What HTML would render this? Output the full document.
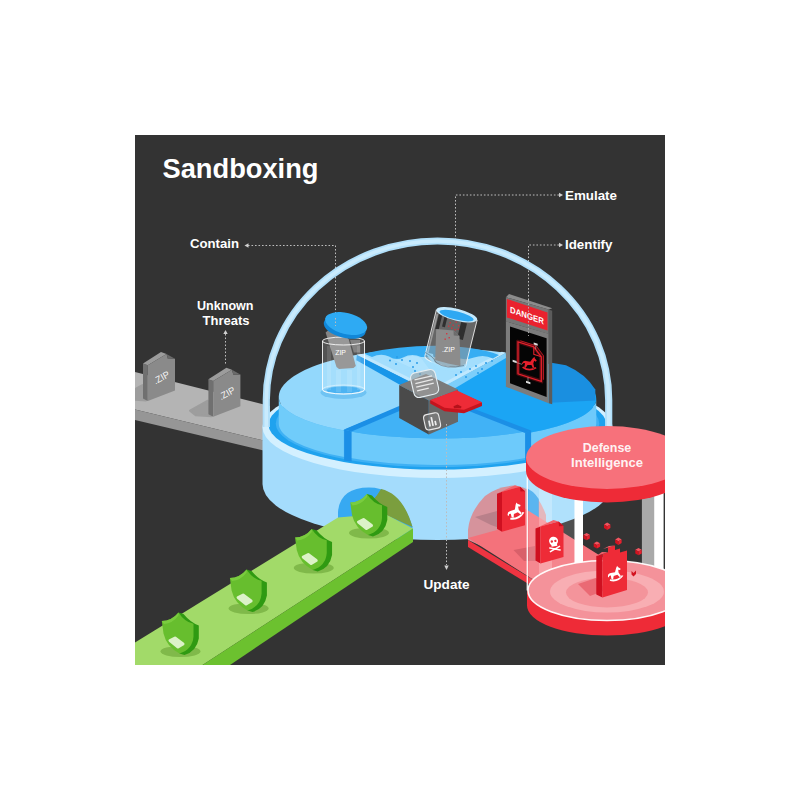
<!DOCTYPE html>
<html><head><meta charset="utf-8"><title>Sandboxing</title>
<style>
html,body{margin:0;padding:0;background:#fff;}
svg{display:block;}
text{font-family:"Liberation Sans",sans-serif;font-weight:bold;fill:#fff;}
</style></head><body>
<svg width="800" height="800" viewBox="0 0 800 800">
<defs><clipPath id="panel"><rect x="135" y="135" width="530" height="530"/></clipPath></defs>
<rect x="0" y="0" width="800" height="800" fill="#ffffff"/>
<rect x="135" y="135" width="530" height="530" fill="#333333"/>
<g clip-path="url(#panel)">
<text x="162.5" y="177.5" font-size="28" textLength="156" lengthAdjust="spacingAndGlyphs">Sandboxing</text>
<text x="190" y="248" font-size="13" textLength="49" lengthAdjust="spacingAndGlyphs">Contain</text>
<text x="225.3" y="309.5" font-size="13" text-anchor="middle" textLength="56.5" lengthAdjust="spacingAndGlyphs">Unknown</text>
<text x="226" y="325" font-size="13" text-anchor="middle" textLength="47" lengthAdjust="spacingAndGlyphs">Threats</text>
<text x="565" y="199.5" font-size="13" textLength="52" lengthAdjust="spacingAndGlyphs">Emulate</text>
<text x="565" y="249" font-size="13" textLength="47.5" lengthAdjust="spacingAndGlyphs">Identify</text>
<text x="423.5" y="588.5" font-size="13" textLength="46" lengthAdjust="spacingAndGlyphs">Update</text>
<path d="M248,245.5 H335.5 V330" fill="none" stroke="#bdbdbd" stroke-width="1" stroke-dasharray="1.6 1.9" />
<polygon points="244.5,245.5 248.5,243.3 248.5,247.7" fill="#d0d0d0" />
<path d="M225.5,334 V364" fill="none" stroke="#bdbdbd" stroke-width="1" stroke-dasharray="1.6 1.9" />
<polygon points="225.5,330.0 223.3,334.0 227.7,334.0" fill="#d0d0d0" />
<path d="M559,195 H455.5 V312" fill="none" stroke="#bdbdbd" stroke-width="1" stroke-dasharray="1.6 1.9" />
<polygon points="563.0,195.0 559.0,192.8 559.0,197.2" fill="#d0d0d0" />
<path d="M559,245 H528.5 V340" fill="none" stroke="#bdbdbd" stroke-width="1" stroke-dasharray="1.6 1.9" />
<polygon points="563.0,245.0 559.0,242.8 559.0,247.2" fill="#d0d0d0" />
<polygon points="135.0,372.0 270.0,406.0 270.0,442.0 135.0,409.5" fill="#b4b4b4" />
<polygon points="135.0,409.5 270.0,442.0 270.0,452.0 135.0,420.0" fill="#969696" />
<polygon points="124.6,395.0 142.4,385.0 146.0,400.5 130.2,399.5" fill="#9d9d9d" stroke="#9d9d9d" stroke-width="2" stroke-linejoin="round"/>
<polygon points="143.0,363.5 147.8,365.3 147.8,401.0 143.0,398.5" fill="#707070" />
<polygon points="143.0,363.5 161.0,352.0 166.5,354.0 147.8,365.3" fill="#9c9c9c" />
<polygon points="147.8,365.3 166.5,354.0 168.0,359.0 175.0,358.8 175.0,390.6 147.8,401.0" fill="#8a8a8a" />
<polygon points="166.5,354.0 175.0,358.8 168.0,359.0" fill="#6a6a6a" />
<text x="161.3" y="380.6" font-size="9.3" text-anchor="middle" style="font-weight:normal" fill="#fff" fill-opacity="0.92" transform="rotate(-29 161.8 377.3)">.ZIP</text>
<polygon points="190.0,410.7 207.8,400.7 211.4,416.2 195.6,415.2" fill="#9d9d9d" stroke="#9d9d9d" stroke-width="2" stroke-linejoin="round"/>
<polygon points="208.4,379.2 213.2,381.0 213.2,416.7 208.4,414.2" fill="#707070" />
<polygon points="208.4,379.2 226.4,367.7 231.9,369.7 213.2,381.0" fill="#9c9c9c" />
<polygon points="213.2,381.0 231.9,369.7 233.4,374.7 240.4,374.5 240.4,406.3 213.2,416.7" fill="#8a8a8a" />
<polygon points="231.9,369.7 240.4,374.5 233.4,374.7" fill="#6a6a6a" />
<text x="226.70000000000002" y="396.3" font-size="9.3" text-anchor="middle" style="font-weight:normal" fill="#fff" fill-opacity="0.92" transform="rotate(-29 227.20000000000002 393.0)">.ZIP</text>
<path d="M262.5,427 L262.5,484 A175,56 0 0 0 612.5,484 L612.5,427 Z" fill="#a4dcfc"/>
<ellipse cx="437.5" cy="427" rx="175" ry="51" fill="#d3f0ff" />
<ellipse cx="437.5" cy="424.5" rx="169" ry="45" fill="#1fa2ee" />
<ellipse cx="437.5" cy="423.5" rx="161.75" ry="43.5" fill="#3fb1f4" />
<path d="M432,393.5 L356.93,354.78 A158.75,49 0 0 1 505.84,352.77 Z" fill="#a3defd" />
<path d="M596.25,399.00 A158.75,41.5 0 0 1 528.10,433.08 L528.10,457.58 A158.75,41.5 0 0 0 596.25,423.50 Z" fill="#6dcafb" />
<path d="M432,395.5 L505.84,354.77 A158.75,49 0 0 1 596.25,399.00 A158.75,41.5 0 0 1 528.10,433.08 Z" fill="#1ba5f4" />
<path d="M343.07,430.36 A158.75,41.5 0 0 1 278.75,397.00 L278.75,423.50 A158.75,41.5 0 0 0 343.07,456.86 Z" fill="#70ccfa" />
<path d="M432,393.5 L343.07,430.36 A158.75,41.5 0 0 1 278.75,397.00 A158.75,49 0 0 1 356.93,354.78 Z" fill="#93d8fc" />
<path d="M528.10,431.08 A158.75,41.5 0 0 1 343.07,430.36 L343.07,456.86 A158.75,41.5 0 0 0 528.10,457.58 Z" fill="#6dcafb" />
<path d="M432,393.5 L528.10,431.08 A158.75,41.5 0 0 1 343.07,430.36 Z" fill="#41b2f6" />
<polygon points="432.0,392.0 344.1,429.4 351.6,431.4 432.0,397.0" fill="#1b8fe6" />
<polygon points="344.1,429.4 351.6,431.4 351.6,461.4 344.1,460.4" fill="#1b8fe6" />
<polygon points="432.0,393.0 531.1,430.6 525.1,433.1 432.0,396.5" fill="#1b8fe6" />
<polygon points="525.1,432.6 531.1,430.6 531.1,459.6 525.1,460.6" fill="#1b8fe6" />
<polygon points="432.0,392.5 356.9,354.8 356.4,360.3 426.0,399.5" fill="#1896e9" />
<polygon points="432.0,392.5 505.8,352.8 506.3,357.8 436.0,399.5" fill="#7ccefa" />
<polygon points="432.0,392.5 505.8,352.8 501.8,351.8 432.0,389.0" fill="#bfe8fe" />
<polygon points="432.0,392.5 356.9,354.8 361.9,354.0 432.0,389.0" fill="#bfe8fe" />
<path d="M364,353.5 Q400,345.5 437,345.8 Q475,346 499,355 L493,358.5 Q484,354 474,357.5 Q464,361 455,357 L421,357 Q412,353 403,357.5 Q396,361 389,356.5 Q381,353 372,357 Z" fill="#36adf3" />
<path d="M389,357.5 Q396,362 403,358.5 Q412,354 421,358 L437,379.5 Z" fill="#b9e7ff" opacity="0.55"/>
<circle cx="390" cy="360.5" r="1" fill="#2a9de8"/>
<circle cx="396" cy="364" r="1" fill="#2a9de8"/>
<circle cx="397" cy="357" r="1" fill="#2a9de8"/>
<circle cx="402" cy="360" r="1" fill="#2a9de8"/>
<circle cx="410" cy="361" r="1" fill="#2a9de8"/>
<circle cx="413" cy="367" r="1" fill="#2a9de8"/>
<circle cx="417" cy="363" r="1" fill="#2a9de8"/>
<circle cx="415" cy="371" r="1" fill="#2a9de8"/>
<circle cx="420" cy="374" r="1" fill="#2a9de8"/>
<circle cx="470" cy="369" r="1" fill="#2a9de8"/>
<circle cx="476" cy="366" r="1" fill="#2a9de8"/>
<circle cx="482" cy="369" r="1" fill="#2a9de8"/>
<circle cx="478" cy="373" r="1" fill="#2a9de8"/>
<circle cx="486" cy="363" r="1" fill="#2a9de8"/>
<circle cx="456" cy="375" r="1" fill="#2a9de8"/>
<circle cx="461" cy="372" r="1" fill="#2a9de8"/>
<circle cx="466" cy="377" r="1" fill="#2a9de8"/>
<circle cx="492" cy="361" r="1" fill="#2a9de8"/>
<ellipse cx="343.5" cy="392.5" rx="23" ry="6.5" fill="#6fc3f3" />
<ellipse cx="343.5" cy="390.3" rx="17" ry="3.8" fill="#2aa5f0" />
<polygon points="350.0,340.0 360.0,340.0 360.0,352.5 353.8,352.5" fill="#6a6a6a" />
<polygon points="325.6,332.5 328.0,330.5 341.5,331.0 348.8,339.4 355.8,366.0 353.5,368.0 339.0,369.0 336.5,367.0" fill="#858585" />
<text x="340.6" y="355" font-size="7" text-anchor="middle" style="font-weight:normal">ZIP</text>
<path d="M322.5,341 V389.5 A21,4.5 0 0 0 364.5,389.5 V341 A21,4 0 0 0 322.5,341 Z" fill="#ffffff" opacity="0.16"/>
<rect x="327" y="346" width="4" height="44" fill="#ffffff" opacity="0.12"/><rect x="336" y="370" width="5" height="22" fill="#ffffff" opacity="0.12"/><rect x="347" y="370" width="5" height="22" fill="#ffffff" opacity="0.12"/><rect x="357" y="346" width="3.5" height="44" fill="#ffffff" opacity="0.12"/>
<path d="M322.5,341 V389.5 A21,4.5 0 0 0 364.5,389.5 V341" fill="none" stroke="#ffffff" stroke-width="1" opacity="0.85"/>
<ellipse cx="343.5" cy="341" rx="21" ry="4" fill="none" stroke="#ffffff" stroke-width="1" opacity="0.85"/>
<ellipse cx="343.5" cy="389.5" rx="21" ry="4.5" fill="none" stroke="#ffffff" stroke-width="0.8" opacity="0.6"/>
<g transform="rotate(14 346 324)">
<ellipse cx="345.6" cy="327.6" rx="21.5" ry="10.5" fill="#1187d8" />
<ellipse cx="346" cy="323.5" rx="21.5" ry="10.5" fill="#2eaaf3" />
</g>
<path d="M335.5,318 V326" fill="none" stroke="#bdbdbd" stroke-width="1" stroke-dasharray="1.6 1.9" stroke="#9fd8fb"/>
<g transform="rotate(14 450.5 340)">
<path d="M429.5,314 V361.5 A21,5.5 0 0 0 471.5,361.5 V314 Z" fill="#8f8f8f" opacity="0.55"/>
<rect x="433" y="317" width="3.5" height="16" fill="#262626" opacity="0.85"/>
<rect x="439" y="317" width="3" height="12" fill="#262626" opacity="0.85"/>
<rect x="456.5" y="320" width="6" height="17" fill="#262626" opacity="0.85"/>
</g>
<polygon points="436.2,329.0 453.5,330.5 459.5,336.0 460.5,366.0 448.0,363.5 435.2,360.0" fill="#8c8c8c" />
<polygon points="453.5,330.5 459.5,336.0 453.8,335.6" fill="#6c6c6c" />
<text x="448.5" y="352" font-size="7" text-anchor="middle" style="font-weight:normal">.ZIP</text>
<rect x="449.5" y="322" width="1.4" height="1.4" fill="#d9303a" opacity="0.9"/>
<rect x="452.5" y="324.5" width="1.4" height="1.4" fill="#d9303a" opacity="0.9"/>
<rect x="455.5" y="321.5" width="1.4" height="1.4" fill="#d9303a" opacity="0.9"/>
<rect x="458" y="325" width="1.4" height="1.4" fill="#d9303a" opacity="0.9"/>
<rect x="451" y="327.5" width="1.4" height="1.4" fill="#d9303a" opacity="0.9"/>
<rect x="454.5" y="329" width="1.4" height="1.4" fill="#d9303a" opacity="0.9"/>
<rect x="457.5" y="328.5" width="1.4" height="1.4" fill="#d9303a" opacity="0.9"/>
<rect x="448" y="325.5" width="1.4" height="1.4" fill="#d9303a" opacity="0.9"/>
<rect x="446" y="333" width="1.4" height="1.4" fill="#d9303a" opacity="0.9"/>
<rect x="448.5" y="337" width="1.4" height="1.4" fill="#d9303a" opacity="0.9"/>
<rect x="444.5" y="338.5" width="1.4" height="1.4" fill="#d9303a" opacity="0.9"/>
<g transform="rotate(14 450.5 340)">
<ellipse cx="450.5" cy="314" rx="21" ry="6" fill="#c3e8fc" />
<ellipse cx="450.5" cy="314.8" rx="17.5" ry="4.2" fill="#2ea8f2" />
<path d="M429.5,314 V361.5 A21,5.5 0 0 0 471.5,361.5 V314" fill="none" stroke="#ffffff" stroke-width="1" opacity="0.8"/>
<path d="M431.5,318 V359" fill="none" stroke="#ffffff" stroke-width="1.6" opacity="0.35"/>
</g>
<path d="M424.5,352 L433,354 L434.5,362 Q445,369 458,366.5 L466,364 L465,369 Q450,374 436,368 Z" fill="#a3defd" opacity="0.8"/>
<path d="M425,352.5 Q433,356 436,362.5 Q446,370 464,365.5" fill="none" stroke="#4a5560" stroke-width="0.7" opacity="0.8"/>
<path d="M550,362.5 L566,365.2 Q586,374 595.3,389.5 L595.5,400.5 L550,402.8 Z" fill="#1a8fe0" />
<polygon points="548.7,309.5 552.2,310.7 552.2,404.3 548.7,403.3" fill="#5c5c5c" />
<polygon points="505.9,297.2 509.0,294.0 552.2,308.2 548.7,309.5" fill="#8c8c8c" />
<polygon points="505.9,297.2 548.7,309.5 548.7,334.0 505.9,321.5" fill="#767676" />
<polygon points="506.9,299.0 547.5,312.6 547.5,330.5 506.9,317.4" fill="#ea222e" />
<text x="0" y="0" font-size="8.8" transform="matrix(0.94,0.33,0,1,510,312.6)" textLength="36" lengthAdjust="spacingAndGlyphs">DANGER</text>
<polygon points="505.9,321.3 548.7,333.8 548.7,403.3 505.9,386.8" fill="#7c7c7c" />
<polygon points="510.0,326.4 546.6,338.2 546.6,397.0 510.0,383.2" fill="#050505" />
<g transform="matrix(1,0.32,0,1,0,-163.2)">
<path d="M518,339.3 H533.8 L541.3,346.8 V371.3 H518 Z" fill="none" stroke="#e5202c" stroke-width="4" opacity="0.28" stroke-linejoin="round"/>
<path d="M518,339.3 H533.8 L541.3,346.8 V371.3 H518 Z" fill="none" stroke="#e5202c" stroke-width="1.3"/>
<path d="M520.3,337.5 H536 L543.5,345 V369" fill="none" stroke="#e5202c" stroke-width="1.1" opacity="0.75"/>
<path d="M533.8,339.3 V346.8 H541.3" fill="none" stroke="#e5202c" stroke-width="1.1"/>
<path d="M535.7,337.5 V341 M513,360.5 H522 M528,371.5 V376" stroke="#c9c9c9" stroke-width="0.6" fill="none" opacity="0.8"/>
<rect x="533.7" y="335" width="4" height="1.9" fill="#dddddd"/><rect x="512.6" y="358.8" width="4" height="2" fill="#dddddd"/><rect x="526" y="375.6" width="4.4" height="2.1" fill="#dddddd"/>
</g>
<path d="M-6.5,4.5 Q0,8.5 6.5,3.5 L5.3,2.6 Q0,6.3 -5.6,3.2 Z M-4.6,3.2 L-4.2,0.2 Q-6,-0.6 -6.3,1.4 L-7,0.6 Q-6.6,-2.2 -3.6,-2 L0.2,-1.6 L2.2,-5 L3.6,-6.6 L3.9,-5.3 L5.9,-3.3 L5.1,-2.3 L3.6,-3 L3.1,-0.4 L4.5,3.6 L3.3,4.1 L1.6,1.2 L-1.9,1.4 L-3.2,4.1 Z" fill="#e5202c" transform="translate(529.8 363.6) rotate(6) scale(1.12)"/>
<path d="M528.5,300 V336" fill="none" stroke="#bdbdbd" stroke-width="1" stroke-dasharray="1.6 1.9" opacity="0.8"/>
<polygon points="399.2,385.0 426.0,374.0 458.0,389.5 428.8,400.5" fill="#7a7a7a" />
<polygon points="399.2,385.0 428.8,400.5 428.8,434.5 399.2,418.0" fill="#4a4a4a" />
<polygon points="428.8,400.5 458.0,389.5 458.0,421.8 428.8,434.5" fill="#676767" />
<g transform="rotate(-13 424.6 383.5)">
<rect x="412" y="371" width="25.2" height="25" rx="5" fill="#a0a0a0" fill-opacity="0.6" stroke="#e6eef2" stroke-width="1.1"/>
<rect x="415.6" y="377.0" width="18" height="1.3" fill="#e8e8e8"/>
<rect x="415.6" y="380.8" width="18" height="1.3" fill="#e8e8e8"/>
<rect x="415.6" y="384.6" width="18" height="1.3" fill="#e8e8e8"/>
<rect x="415.6" y="388.4" width="12" height="1.3" fill="#e8e8e8"/>
</g>
<g transform="rotate(-12 432.1 421.4)">
<rect x="424.4" y="413.6" width="15.4" height="15.6" rx="3.5" fill="#8a8a8a" fill-opacity="0.5" stroke="#e8e8e8" stroke-width="1.1"/>
<rect x="428.3" y="420" width="1.7" height="6" fill="#eee"/><rect x="431.3" y="417" width="1.7" height="9" fill="#eee"/><rect x="434.3" y="421.5" width="1.7" height="4.5" fill="#eee"/>
</g>
<polygon points="430.2,400.5 456.5,391.0 482.0,402.5 482.0,406.0 464.0,413.3 444.5,411.2 430.2,403.5" fill="#c5141e" />
<polygon points="430.2,400.0 456.5,390.2 482.0,402.2 464.0,409.8 444.5,407.8" fill="#ee2b37" />
<polygon points="453.5,406.3 457.5,404.6 461.5,406.5 461.0,408.3 454.0,408.3" fill="#b5121b" />
<path d="M446.5,424 V565" fill="none" stroke="#bdbdbd" stroke-width="1" stroke-dasharray="1.6 1.9" />
<polygon points="446.5,570.0 444.3,565.5 448.7,565.5" fill="#d0d0d0" />
<path d="M266.3,427 V400 A171.2,159 0 0 1 608.7,400 V427" fill="none" stroke="#b0dffa" stroke-width="7.2"/>
<path d="M266.3,427 V400 A171.2,159 0 0 1 608.7,400 V427" fill="none" stroke="#c9ebfd" stroke-width="3.6"/>
<path d="M338,519 V512 Q340,487.5 369,487.5 Q400,487.5 412.5,527 V542 L338,530 Z" fill="#37a9f2" />
<path d="M381,489 Q403,494 412.5,527 L384,514 L351,517 Q372,505 381,489 Z" fill="#7b9e3e" />
<polygon points="338.0,517.5 384.0,513.5 413.0,528.5 202.5,665.0 100.0,665.0 135.0,642.5" fill="#a2da69" />
<polygon points="413.0,528.5 413.0,542.0 230.0,665.0 202.5,665.0" fill="#6cc12f" />
<ellipse cx="369" cy="533" rx="20" ry="5.5" fill="#80b94a" />
<path d="M367,494 L372,495.5 Q379,504 387.3,507 L387.3,520 Q385,533 373,536.5 L368,535 Z" fill="#2f9a12" />
<path d="M350.3,502.5 Q360,502.5 367,494 Q373,503.5 382,505.3 L382,518 Q381,531 368,535 Q355,528 352,515 Z" fill="#67be2e" />
<path d="M350.3,502.5 Q360,502.5 367,494 L367,497 Q361,505 352.5,505.5 Z" fill="#7fd043" opacity="0.8"/>
<polygon points="358.5,522.0 363.5,519.5 371.5,525.5 366.5,528.5" fill="#dcf2c8" stroke="#dcf2c8" stroke-width="3" stroke-linejoin="round"/>
<ellipse cx="313.75" cy="568" rx="20" ry="5.5" fill="#80b94a" />
<path d="M311.75,529 L316.75,530.5 Q323.75,539 332.05,542 L332.05,555 Q329.75,568 317.75,571.5 L312.75,570 Z" fill="#2f9a12" />
<path d="M295.05,537.5 Q304.75,537.5 311.75,529 Q317.75,538.5 326.75,540.3 L326.75,553 Q325.75,566 312.75,570 Q299.75,563 296.75,550 Z" fill="#67be2e" />
<path d="M295.05,537.5 Q304.75,537.5 311.75,529 L311.75,532 Q305.75,540 297.25,540.5 Z" fill="#7fd043" opacity="0.8"/>
<polygon points="303.2,557.0 308.2,554.5 316.2,560.5 311.2,563.5" fill="#dcf2c8" stroke="#dcf2c8" stroke-width="3" stroke-linejoin="round"/>
<ellipse cx="248.6" cy="608.5" rx="20" ry="5.5" fill="#80b94a" />
<path d="M246.6,569.5 L251.6,571.0 Q258.6,579.5 266.9,582.5 L266.9,595.5 Q264.6,608.5 252.6,612.0 L247.6,610.5 Z" fill="#2f9a12" />
<path d="M229.9,578.0 Q239.6,578.0 246.6,569.5 Q252.6,579.0 261.6,580.8 L261.6,593.5 Q260.6,606.5 247.6,610.5 Q234.6,603.5 231.6,590.5 Z" fill="#67be2e" />
<path d="M229.9,578.0 Q239.6,578.0 246.6,569.5 L246.6,572.5 Q240.6,580.5 232.1,581.0 Z" fill="#7fd043" opacity="0.8"/>
<polygon points="238.1,597.5 243.1,595.0 251.1,601.0 246.1,604.0" fill="#dcf2c8" stroke="#dcf2c8" stroke-width="3" stroke-linejoin="round"/>
<ellipse cx="180.5" cy="651.5" rx="20" ry="5.5" fill="#80b94a" />
<path d="M178.5,612.5 L183.5,614.0 Q190.5,622.5 198.8,625.5 L198.8,638.5 Q196.5,651.5 184.5,655.0 L179.5,653.5 Z" fill="#2f9a12" />
<path d="M161.8,621.0 Q171.5,621.0 178.5,612.5 Q184.5,622.0 193.5,623.8 L193.5,636.5 Q192.5,649.5 179.5,653.5 Q166.5,646.5 163.5,633.5 Z" fill="#67be2e" />
<path d="M161.8,621.0 Q171.5,621.0 178.5,612.5 L178.5,615.5 Q172.5,623.5 164.0,624.0 Z" fill="#7fd043" opacity="0.8"/>
<polygon points="170.0,640.5 175.0,638.0 183.0,644.0 178.0,647.0" fill="#dcf2c8" stroke="#dcf2c8" stroke-width="3" stroke-linejoin="round"/>
<path d="M468,540 V530 Q469.5,512 485,496 Q497,486.5 513.75,485.6 Q536,487 546,515 V575 Z" fill="#d6939c" />
<path d="M524,487 Q533,490 538.75,499 V541 L528,534 V489 Z" fill="#3ba7ee" />
<polygon points="475.0,517.0 497.0,511.0 498.0,527.5 491.0,525.0" fill="#b9808a" />
<polygon points="468.0,538.0 497.0,530.0 500.0,493.0 540.0,518.0 650.0,587.0 560.0,598.0 545.0,587.0" fill="#f4727b" />
<polygon points="468.0,540.0 468.0,547.0 545.0,594.0 545.0,587.0" fill="#ee3441" />
<polygon points="513.5,550.0 535.0,546.0 536.0,561.0 524.0,561.0" fill="#d9606a" />
<polygon points="497.0,493.7 502.0,491.7 502.0,531.7 497.0,528.7" fill="#cf1020" />
<polygon points="497.0,493.7 515.0,485.2 520.0,486.7 502.0,491.7" fill="#f4616b" />
<polygon points="502.0,491.7 520.0,486.7 525.0,491.2 525.0,525.2 502.0,531.7" fill="#ee2b37" />
<polygon points="520.0,486.7 525.0,491.2 520.5,491.4" fill="#c90f1d" />
<path d="M-6.5,4.5 Q0,8.5 6.5,3.5 L5.3,2.6 Q0,6.3 -5.6,3.2 Z M-4.6,3.2 L-4.2,0.2 Q-6,-0.6 -6.3,1.4 L-7,0.6 Q-6.6,-2.2 -3.6,-2 L0.2,-1.6 L2.2,-5 L3.6,-6.6 L3.9,-5.3 L5.9,-3.3 L5.1,-2.3 L3.6,-3 L3.1,-0.4 L4.5,3.6 L3.3,4.1 L1.6,1.2 L-1.9,1.4 L-3.2,4.1 Z" fill="#ffffff" transform="translate(515.4 511.5) rotate(-22) scale(1.22)"/>
<clipPath id="glass"><path d="M527,470 V590.5 A80,30 0 0 0 687,590.5 V470 Z"/></clipPath>
<g clip-path="url(#glass)">
<rect x="527" y="470" width="160" height="160" fill="#ffffff" opacity="0.0"/>
<rect x="528.5" y="470" width="10.5" height="140" fill="#ffffff" opacity="0.16"/>
<rect x="539" y="470" width="13" height="140" fill="#ffffff" opacity="0.34"/>
<rect x="552" y="470" width="22" height="140" fill="#ffffff" opacity="0.14"/>
<polygon points="535.5,528.5 540.5,526.5 540.5,563.5 535.5,560.5" fill="#cf1020" />
<polygon points="535.5,528.5 553.5,520.0 558.5,521.5 540.5,526.5" fill="#f4616b" />
<polygon points="540.5,526.5 558.5,521.5 563.5,526.0 563.5,557.0 540.5,563.5" fill="#ee2b37" />
<polygon points="558.5,521.5 563.5,526.0 559.0,526.2" fill="#c90f1d" />
<g transform="translate(554 543.5) rotate(-10) scale(0.9)" fill="#ffffff"><path d="M-5,-3 A5,4.6 0 1 1 5,-3 Q5,0 3.2,1 L3.2,3 H-3.2 L-3.2,1 Q-5,0 -5,-3 Z"/><circle cx="-2" cy="-2.6" r="1.35" fill="#e8303b"/><circle cx="2" cy="-2.6" r="1.35" fill="#e8303b"/><path d="M-5.5,4.2 L5.5,8.2 M5.5,4.2 L-5.5,8.2" stroke="#ffffff" stroke-width="1.7" stroke-linecap="round" fill="none"/></g>
<rect x="574.4" y="480" width="8.6" height="84" fill="#ffffff"/>
<rect x="641.9" y="480" width="12.2" height="100" fill="#a9a9a9"/>
<rect x="654.1" y="480" width="9.5" height="100" fill="#ffffff"/>
</g>
<path d="M527,590.5 V605.5 A80,30 0 0 0 687,605.5 V590.5 Z" fill="#ee2b37" />
<ellipse cx="607" cy="590.5" rx="79" ry="30" fill="#f4929a" />
<ellipse cx="607" cy="591.5" rx="57" ry="21" fill="#f8aeb3" />
<ellipse cx="607" cy="592.5" rx="41" ry="15" fill="#f4949b" />
<polygon points="578.0,584.0 596.0,578.0 606.0,590.0 590.0,596.0" fill="#ea6a74" />
<ellipse cx="607" cy="590.5" rx="79" ry="30" fill="none" stroke="#ffffff" stroke-width="1.6" opacity="0.95"/>
<polygon points="607.2,522.6 610.4,524.5 607.2,526.2 604.0,524.5" fill="#f25560" />
<polygon points="604.0,524.5 607.2,526.2 607.2,529.9 604.0,528.0" fill="#d3121f" />
<polygon points="610.4,524.5 607.2,526.2 607.2,529.9 610.4,528.0" fill="#e8212e" />
<polygon points="586.6,533.0 589.8,534.8 586.6,536.6 583.4,534.8" fill="#f25560" />
<polygon points="583.4,534.8 586.6,536.6 586.6,540.2 583.4,538.4" fill="#d3121f" />
<polygon points="589.8,534.8 586.6,536.6 586.6,540.2 589.8,538.4" fill="#e8212e" />
<polygon points="596.9,541.4 600.1,543.2 596.9,545.0 593.7,543.2" fill="#f25560" />
<polygon points="593.7,543.2 596.9,545.0 596.9,548.6 593.7,546.8" fill="#d3121f" />
<polygon points="600.1,543.2 596.9,545.0 596.9,548.6 600.1,546.8" fill="#e8212e" />
<polygon points="618.4,537.6 621.6,539.5 618.4,541.2 615.2,539.5" fill="#f25560" />
<polygon points="615.2,539.5 618.4,541.2 618.4,544.9 615.2,543.0" fill="#d3121f" />
<polygon points="621.6,539.5 618.4,541.2 618.4,544.9 621.6,543.0" fill="#e8212e" />
<polygon points="638.5,548.0 641.7,549.8 638.5,551.6 635.3,549.8" fill="#f25560" />
<polygon points="635.3,549.8 638.5,551.6 638.5,555.2 635.3,553.4" fill="#d3121f" />
<polygon points="641.7,549.8 638.5,551.6 638.5,555.2 641.7,553.4" fill="#e8212e" />
<polygon points="631.5,571.0 633.5,573.0 636.0,570.5 636.0,574.0 633.5,576.5 631.5,574.5" fill="#d3121f" />
<polygon points="596.3,556.0 602.5,554.0 602.5,597.5 596.3,594.5" fill="#cf1020" />
<polygon points="602.5,554.0 608.0,552.3 608.0,547.5 615.0,545.5 615.0,550.0 620.0,548.5 620.0,552.5 627.0,550.5 627.0,590.0 602.5,597.5" fill="#ee2b37" />
<polygon points="596.3,556.0 602.0,552.0 608.0,552.3 602.5,554.0" fill="#f4616b" />
<polygon points="603.0,549.0 609.0,546.0 615.0,545.5 608.0,547.5" fill="#f4616b" />
<path d="M-6.5,4.5 Q0,8.5 6.5,3.5 L5.3,2.6 Q0,6.3 -5.6,3.2 Z M-4.6,3.2 L-4.2,0.2 Q-6,-0.6 -6.3,1.4 L-7,0.6 Q-6.6,-2.2 -3.6,-2 L0.2,-1.6 L2.2,-5 L3.6,-6.6 L3.9,-5.3 L5.9,-3.3 L5.1,-2.3 L3.6,-3 L3.1,-0.4 L4.5,3.6 L3.3,4.1 L1.6,1.2 L-1.9,1.4 L-3.2,4.1 Z" fill="#ffffff" transform="translate(615.3 574) rotate(-16) scale(1.12)"/>
<path d="M527,470 V590.5 A80,30 0 0 0 687,590.5 V470 Z" fill="#ffffff" opacity="0.0"/>
<path d="M527.3,470 V590.5" stroke="#ffffff" stroke-width="1.4" opacity="0.9"/>
<path d="M526,457.5 V471.0 A81,31.5 0 0 0 688,471.0 V457.5 Z" fill="#ee2b37" />
<ellipse cx="607" cy="457.5" rx="81" ry="31.5" fill="#f7717b" />
<text x="607" y="452" font-size="13" text-anchor="middle" textLength="48.5" lengthAdjust="spacingAndGlyphs" fill-opacity="0.93">Defense</text>
<text x="607" y="467.2" font-size="13" text-anchor="middle" textLength="72" lengthAdjust="spacingAndGlyphs" fill-opacity="0.93">Intelligence</text>
</g>
</svg>
</body></html>
